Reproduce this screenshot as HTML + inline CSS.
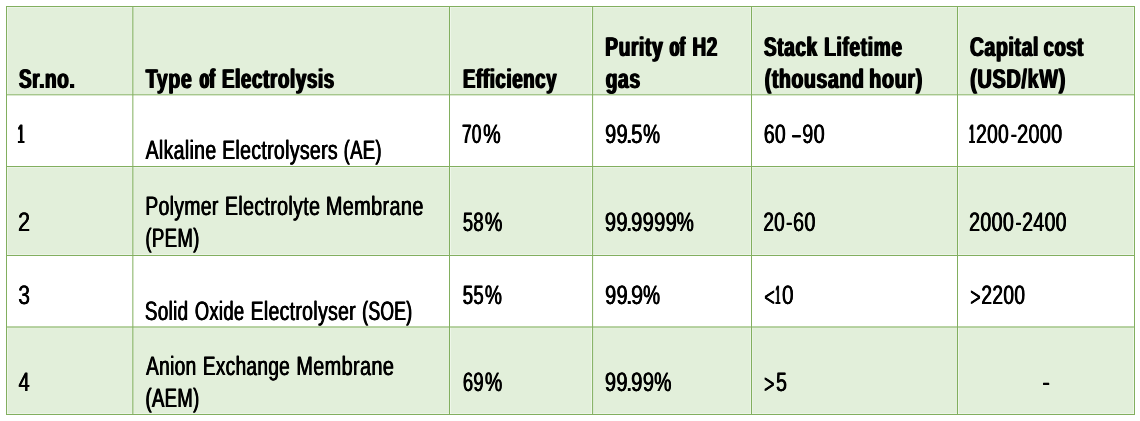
<!DOCTYPE html>
<html lang="en">
<head>
<meta charset="utf-8">
<title>Types of Electrolysis</title>
<style>
html,body{margin:0;padding:0;background:#fff;}
body{width:1140px;height:421px;position:relative;overflow:hidden;font-family:"Liberation Sans",Arial,sans-serif;color:#000;}
#grid{position:absolute;left:0;top:0;}
table{position:absolute;left:6px;top:6px;border-collapse:collapse;border-spacing:0;table-layout:fixed;width:1129px;}
th,td{position:relative;padding:0;margin:0;border:0;text-align:left;vertical-align:top;font-weight:inherit;}
.ln{position:absolute;left:0;height:30px;line-height:30px;white-space:pre;text-rendering:geometricPrecision;}
.w{display:inline-block;transform-origin:0 0;}
tbody .ln{font-size:26.6px;font-weight:400;letter-spacing:0.5px;}
thead .ln{font-size:27px;font-weight:700;letter-spacing:1px;}
</style>
</head>
<body>
<svg id="grid" width="1140" height="421" viewBox="0 0 1140 421">
<rect x="6" y="6" width="1129" height="88.3" fill="#E2EFDA"/>
<rect x="6" y="94.3" width="1129" height="71.7" fill="#FFFFFF"/>
<rect x="6" y="166" width="1129" height="89" fill="#E2EFDA"/>
<rect x="6" y="255" width="1129" height="71.5" fill="#FFFFFF"/>
<rect x="6" y="326.5" width="1129" height="88.5" fill="#E2EFDA"/>
<rect x="7" y="7" width="1" height="407" fill="#fff" fill-opacity="0.42"/>
<rect x="450" y="7" width="1" height="407" fill="#fff" fill-opacity="0.42"/>
<rect x="591" y="7" width="1" height="407" fill="#fff" fill-opacity="0.42"/>
<rect x="593.1" y="7" width="1" height="407" fill="#fff" fill-opacity="0.15"/>
<rect x="750" y="7" width="1" height="407" fill="#fff" fill-opacity="0.3"/>
<rect x="752" y="7" width="1" height="407" fill="#fff" fill-opacity="0.25"/>
<rect x="958" y="7" width="1" height="407" fill="#fff" fill-opacity="0.42"/>
<rect x="1133" y="7" width="1" height="407" fill="#fff" fill-opacity="0.42"/>
<rect x="131.35" y="7" width="1" height="407" fill="#fff" fill-opacity="0.15"/>
<rect x="133.35" y="7" width="1" height="407" fill="#fff" fill-opacity="0.15"/>
<rect x="7" y="7" width="1127" height="1" fill="#fff" fill-opacity="0.35"/>
<rect x="7" y="167" width="1127" height="1" fill="#fff" fill-opacity="0.35"/>
<rect x="7" y="254" width="1127" height="1" fill="#fff" fill-opacity="0.35"/>
<rect x="7" y="413" width="1127" height="1" fill="#fff" fill-opacity="0.35"/>
<rect x="7" y="327.5" width="1127" height="1" fill="#fff" fill-opacity="0.15"/>
<rect x="6" y="6" width="1" height="409" fill="#82AF5F"/>
<rect x="132.35" y="6" width="1" height="409" fill="#82AF5F"/>
<rect x="449" y="6" width="1" height="409" fill="#82AF5F"/>
<rect x="592.1" y="6" width="1" height="409" fill="#82AF5F"/>
<rect x="751" y="6" width="1" height="409" fill="#82AF5F"/>
<rect x="957" y="6" width="1" height="409" fill="#82AF5F"/>
<rect x="1134" y="6" width="1" height="409" fill="#82AF5F"/>
<rect x="6" y="6" width="1129" height="1" fill="#82AF5F"/>
<rect x="6" y="94.3" width="1129" height="1" fill="#82AF5F"/>
<rect x="6" y="166" width="1129" height="1" fill="#82AF5F"/>
<rect x="6" y="255" width="1129" height="1" fill="#82AF5F"/>
<rect x="6" y="326.5" width="1129" height="1" fill="#82AF5F"/>
<rect x="6" y="414" width="1129" height="1" fill="#82AF5F"/>
</svg>
<table>
<colgroup><col style="width:126px"><col style="width:317px"><col style="width:143px"><col style="width:159px"><col style="width:206px"><col style="width:178px"></colgroup>
<thead>
<tr style="height:88px">
<th><div class="ln" style="top:58px"><span class="w" style="transform:translateX(12.89px) scaleX(0.6983);text-shadow:1.09px 0 0 #000,-1.09px 0 0 #000">Sr.no.</span></div></th>
<th><div class="ln" style="top:58px"><span class="w" style="transform:translateX(13.77px) scaleX(0.7175);text-shadow:1.01px 0 0 #000,-1.01px 0 0 #000">Type</span> <span class="w" style="transform:translateX(-6.24px) scaleX(0.5627);text-shadow:1.84px 0 0 #000,-1.84px 0 0 #000,0.92px 0 0 #000,-0.92px 0 0 #000">of</span> <span class="w" style="transform:translateX(-19.96px) scaleX(0.6897);text-shadow:1.13px 0 0 #000,-1.13px 0 0 #000">Electrolysis</span></div></th>
<th><div class="ln" style="top:58px"><span class="w" style="transform:translateX(14.08px) scaleX(0.6840);text-shadow:1.16px 0 0 #000,-1.16px 0 0 #000">Efficiency</span></div></th>
<th><div class="ln" style="top:26px"><span class="w" style="transform:translateX(13.30px) scaleX(0.7041);text-shadow:1.07px 0 0 #000,-1.07px 0 0 #000">Purity</span> <span class="w" style="transform:translateX(-13.28px) scaleX(0.5776);text-shadow:1.74px 0 0 #000,-1.74px 0 0 #000">of</span> <span class="w" style="transform:translateX(-26.60px) scaleX(0.6997);text-shadow:1.09px 0 0 #000,-1.09px 0 0 #000">H2</span></div><div class="ln" style="top:58px"><span class="w" style="transform:translateX(13.74px) scaleX(0.7070);text-shadow:1.06px 0 0 #000,-1.06px 0 0 #000">gas</span></div></th>
<th><div class="ln" style="top:26px"><span class="w" style="transform:translateX(13.06px) scaleX(0.6972);text-shadow:1.10px 0 0 #000,-1.10px 0 0 #000">Stack</span> <span class="w" style="transform:translateX(-12.69px) scaleX(0.7025);text-shadow:1.08px 0 0 #000,-1.08px 0 0 #000">Lifetime</span></div><div class="ln" style="top:58px"><span class="w" style="transform:translateX(13.79px) scaleX(0.7147);text-shadow:1.02px 0 0 #000,-1.02px 0 0 #000">(thousand</span> <span class="w" style="transform:translateX(-29.73px) scaleX(0.7264);text-shadow:0.97px 0 0 #000,-0.97px 0 0 #000">hour)</span></div></th>
<th><div class="ln" style="top:26px"><span class="w" style="transform:translateX(12.99px) scaleX(0.7125);text-shadow:1.03px 0 0 #000,-1.03px 0 0 #000">Capital</span> <span class="w" style="transform:translateX(-19.20px) scaleX(0.6739);text-shadow:1.21px 0 0 #000,-1.21px 0 0 #000">cost</span></div><div class="ln" style="top:58px"><span class="w" style="transform:translateX(13.27px) scaleX(0.7307);text-shadow:0.96px 0 0 #000,-0.96px 0 0 #000">(USD/kW)</span></div></th>
</tr>
</thead>
<tbody>
<tr style="height:72px">
<td><div class="ln" style="top:25px"><span class="w" style="transform:translateX(11.70px) scaleX(0.4455);text-shadow:1.57px 0 0 #000,-1.57px 0 0 #000,0.78px 0 0 #000,-0.78px 0 0 #000">1</span></div></td>
<td><div class="ln" style="top:41px"><span class="w" style="transform:translateX(13.65px) scaleX(0.7299);text-shadow:0.51px 0 0 #000,-0.51px 0 0 #000">Alkaline</span> <span class="w" style="transform:translateX(-14.86px) scaleX(0.7303);text-shadow:0.51px 0 0 #000,-0.51px 0 0 #000">Electrolysers</span> <span class="w" style="transform:translateX(-60.31px) scaleX(0.6920);text-shadow:0.60px 0 0 #000,-0.60px 0 0 #000">(AE)</span></div></td>
<td><div class="ln" style="top:25px"><span class="w" style="transform:translateX(13.01px) scaleX(0.6440);text-shadow:0.73px 0 0 #000,-0.73px 0 0 #000">70</span><span class="w" style="transform:translateX(3.20px) scaleX(0.7401);text-shadow:0.48px 0 0 #000,-0.48px 0 0 #000">%</span></div></td>
<td><div class="ln" style="top:25px"><span class="w" style="transform:translateX(13.17px) scaleX(0.7443);text-shadow:0.48px 0 0 #000,-0.48px 0 0 #000">99</span><span class="w" style="transform:translateX(2.85px) scaleX(0.9187);text-shadow:0.30px 0 0 #000,-0.30px 0 0 #000">.</span><span class="w" style="transform:translateX(1.17px) scaleX(0.7632);text-shadow:0.44px 0 0 #000,-0.44px 0 0 #000">5</span><span class="w" style="transform:translateX(-2.88px) scaleX(0.7164);text-shadow:0.54px 0 0 #000,-0.54px 0 0 #000">%</span></div></td>
<td><div class="ln" style="top:25px"><span class="w" style="transform:translateX(12.87px) scaleX(0.7273);text-shadow:0.51px 0 0 #000,-0.51px 0 0 #000">60</span> <span class="w" style="transform:translateX(3.50px) scaleX(0.5325);text-shadow:1.12px 0 0 #000,-1.12px 0 0 #000,0.56px 0 0 #000,-0.56px 0 0 #000">–</span><span class="w" style="transform:translateX(-2.76px) scaleX(0.7453);text-shadow:0.47px 0 0 #000,-0.47px 0 0 #000">90</span></div></td>
<td><div class="ln" style="top:25px"><span class="w" style="transform:translateX(12.30px) scaleX(0.3657);text-shadow:2.16px 0 0 #000,-2.16px 0 0 #000,1.08px 0 0 #000,-1.08px 0 0 #000">1</span><span class="w" style="transform:translateX(4.20px) scaleX(0.7162);text-shadow:0.54px 0 0 #000,-0.54px 0 0 #000">200</span><span class="w" style="transform:translateX(-7.15px) scaleX(0.6888);text-shadow:0.61px 0 0 #000,-0.61px 0 0 #000">-</span><span class="w" style="transform:translateX(-10.86px) scaleX(0.7427);text-shadow:0.48px 0 0 #000,-0.48px 0 0 #000">2000</span></div></td>
</tr>
<tr style="height:89px">
<td><div class="ln" style="top:41px"><span class="w" style="transform:translateX(11.94px) scaleX(0.8167);text-shadow:0.33px 0 0 #000,-0.33px 0 0 #000">2</span></div></td>
<td><div class="ln" style="top:25px"><span class="w" style="transform:translateX(13.37px) scaleX(0.7254);text-shadow:0.52px 0 0 #000,-0.52px 0 0 #000">Polymer</span> <span class="w" style="transform:translateX(-16.09px) scaleX(0.7358);text-shadow:0.49px 0 0 #000,-0.49px 0 0 #000">Electrolyte</span> <span class="w" style="transform:translateX(-52.19px) scaleX(0.7469);text-shadow:0.47px 0 0 #000,-0.47px 0 0 #000">Membrane</span></div><div class="ln" style="top:57px"><span class="w" style="transform:translateX(13.39px) scaleX(0.6979);text-shadow:0.58px 0 0 #000,-0.58px 0 0 #000">(PEM)</span></div></td>
<td><div class="ln" style="top:41px"><span class="w" style="transform:translateX(13.79px) scaleX(0.6914);text-shadow:0.60px 0 0 #000,-0.60px 0 0 #000">58</span><span class="w" style="transform:translateX(4.83px) scaleX(0.7398);text-shadow:0.49px 0 0 #000,-0.49px 0 0 #000">%</span></div></td>
<td><div class="ln" style="top:41px"><span class="w" style="transform:translateX(12.96px) scaleX(0.7510);text-shadow:0.46px 0 0 #000,-0.46px 0 0 #000">99</span><span class="w" style="transform:translateX(3.03px) scaleX(0.8648);text-shadow:0.30px 0 0 #000,-0.30px 0 0 #000">.</span><span class="w" style="transform:translateX(1.18px) scaleX(0.7510);text-shadow:0.46px 0 0 #000,-0.46px 0 0 #000">9999</span><span class="w" style="transform:translateX(-15.45px) scaleX(0.7272);text-shadow:0.51px 0 0 #000,-0.51px 0 0 #000">%</span></div></td>
<td><div class="ln" style="top:41px"><span class="w" style="transform:translateX(12.32px) scaleX(0.7133);text-shadow:0.55px 0 0 #000,-0.55px 0 0 #000">20</span><span class="w" style="transform:translateX(4.14px) scaleX(0.6909);text-shadow:0.60px 0 0 #000,-0.60px 0 0 #000">-</span><span class="w" style="transform:translateX(2.01px) scaleX(0.7441);text-shadow:0.48px 0 0 #000,-0.48px 0 0 #000">60</span></div></td>
<td><div class="ln" style="top:41px"><span class="w" style="transform:translateX(12.06px) scaleX(0.7373);text-shadow:0.49px 0 0 #000,-0.49px 0 0 #000">2000</span><span class="w" style="transform:translateX(-2.23px) scaleX(0.6190);text-shadow:0.80px 0 0 #000,-0.80px 0 0 #000">-</span><span class="w" style="transform:translateX(-5.81px) scaleX(0.7307);text-shadow:0.51px 0 0 #000,-0.51px 0 0 #000">2400</span></div></td>
</tr>
<tr style="height:72px">
<td><div class="ln" style="top:25px"><span class="w" style="transform:translateX(12.17px) scaleX(0.7934);text-shadow:0.37px 0 0 #000,-0.37px 0 0 #000">3</span></div></td>
<td><div class="ln" style="top:41px"><span class="w" style="transform:translateX(12.94px) scaleX(0.7049);text-shadow:0.57px 0 0 #000,-0.57px 0 0 #000">Solid</span> <span class="w" style="transform:translateX(-7.16px) scaleX(0.6895);text-shadow:0.60px 0 0 #000,-0.60px 0 0 #000">Oxide</span> <span class="w" style="transform:translateX(-30.33px) scaleX(0.7266);text-shadow:0.52px 0 0 #000,-0.52px 0 0 #000">Electrolyser</span> <span class="w" style="transform:translateX(-71.69px) scaleX(0.6553);text-shadow:0.70px 0 0 #000,-0.70px 0 0 #000">(SOE)</span></div></td>
<td><div class="ln" style="top:25px"><span class="w" style="transform:translateX(13.77px) scaleX(0.6942);text-shadow:0.59px 0 0 #000,-0.59px 0 0 #000">55</span><span class="w" style="transform:translateX(4.99px) scaleX(0.7192);text-shadow:0.53px 0 0 #000,-0.53px 0 0 #000">%</span></div></td>
<td><div class="ln" style="top:25px"><span class="w" style="transform:translateX(13.17px) scaleX(0.7443);text-shadow:0.48px 0 0 #000,-0.48px 0 0 #000">99</span><span class="w" style="transform:translateX(2.85px) scaleX(0.9187);text-shadow:0.30px 0 0 #000,-0.30px 0 0 #000">.</span><span class="w" style="transform:translateX(0.98px) scaleX(0.8224);text-shadow:0.32px 0 0 #000,-0.32px 0 0 #000">9</span><span class="w" style="transform:translateX(-2.88px) scaleX(0.7164);text-shadow:0.54px 0 0 #000,-0.54px 0 0 #000">%</span></div></td>
<td><div class="ln" style="top:25px"><span class="w" style="transform:translate(13.32px,2px) scaleX(0.6677);text-shadow:0.66px 0 0 #000,-0.66px 0 0 #000">&lt;</span><span class="w" style="transform:translateX(8.74px) scaleX(0.2854);text-shadow:3.00px 0 0 #000,-3.00px 0 0 #000,1.50px 0 0 #000,-1.50px 0 0 #000">1</span><span class="w" style="transform:translateX(0.04px) scaleX(0.7826);text-shadow:0.40px 0 0 #000,-0.40px 0 0 #000">0</span></div></td>
<td><div class="ln" style="top:25px"><span class="w" style="transform:translate(13.36px,2px) scaleX(0.6535);text-shadow:0.70px 0 0 #000,-0.70px 0 0 #000">&gt;</span><span class="w" style="transform:translateX(8.31px) scaleX(0.7192);text-shadow:0.53px 0 0 #000,-0.53px 0 0 #000">2200</span></div></td>
</tr>
<tr style="height:88px">
<td><div class="ln" style="top:40px"><span class="w" style="transform:translateX(12.57px) scaleX(0.7462);text-shadow:0.47px 0 0 #000,-0.47px 0 0 #000">4</span></div></td>
<td><div class="ln" style="top:24px"><span class="w" style="transform:translateX(14.03px) scaleX(0.7164);text-shadow:0.54px 0 0 #000,-0.54px 0 0 #000">Anion</span> <span class="w" style="transform:translateX(-7.18px) scaleX(0.7141);text-shadow:0.54px 0 0 #000,-0.54px 0 0 #000">Exchange</span> <span class="w" style="transform:translateX(-44.70px) scaleX(0.7474);text-shadow:0.47px 0 0 #000,-0.47px 0 0 #000">Membrane</span></div><div class="ln" style="top:56px"><span class="w" style="transform:translateX(13.49px) scaleX(0.6945);text-shadow:0.59px 0 0 #000,-0.59px 0 0 #000">(AEM)</span></div></td>
<td><div class="ln" style="top:40px"><span class="w" style="transform:translateX(13.89px) scaleX(0.6876);text-shadow:0.61px 0 0 #000,-0.61px 0 0 #000">69</span><span class="w" style="transform:translateX(4.99px) scaleX(0.7312);text-shadow:0.50px 0 0 #000,-0.50px 0 0 #000">%</span></div></td>
<td><div class="ln" style="top:40px"><span class="w" style="transform:translateX(12.96px) scaleX(0.7510);text-shadow:0.46px 0 0 #000,-0.46px 0 0 #000">99</span><span class="w" style="transform:translateX(3.03px) scaleX(0.8648);text-shadow:0.30px 0 0 #000,-0.30px 0 0 #000">.</span><span class="w" style="transform:translateX(1.10px) scaleX(0.7642);text-shadow:0.43px 0 0 #000,-0.43px 0 0 #000">99</span><span class="w" style="transform:translateX(-6.87px) scaleX(0.7309);text-shadow:0.51px 0 0 #000,-0.51px 0 0 #000">%</span></div></td>
<td><div class="ln" style="top:40px"><span class="w" style="transform:translate(13.23px,2px) scaleX(0.6450);text-shadow:0.73px 0 0 #000,-0.73px 0 0 #000">&gt;</span><span class="w" style="transform:translateX(9.01px) scaleX(0.7286);text-shadow:0.51px 0 0 #000,-0.51px 0 0 #000">5</span></div></td>
<td><div class="ln" style="top:40px"><span class="w" style="transform:translateX(85.25px) scaleX(0.8747);text-shadow:0.30px 0 0 #000,-0.30px 0 0 #000">-</span></div></td>
</tr>
</tbody>
</table>
</body>
</html>
